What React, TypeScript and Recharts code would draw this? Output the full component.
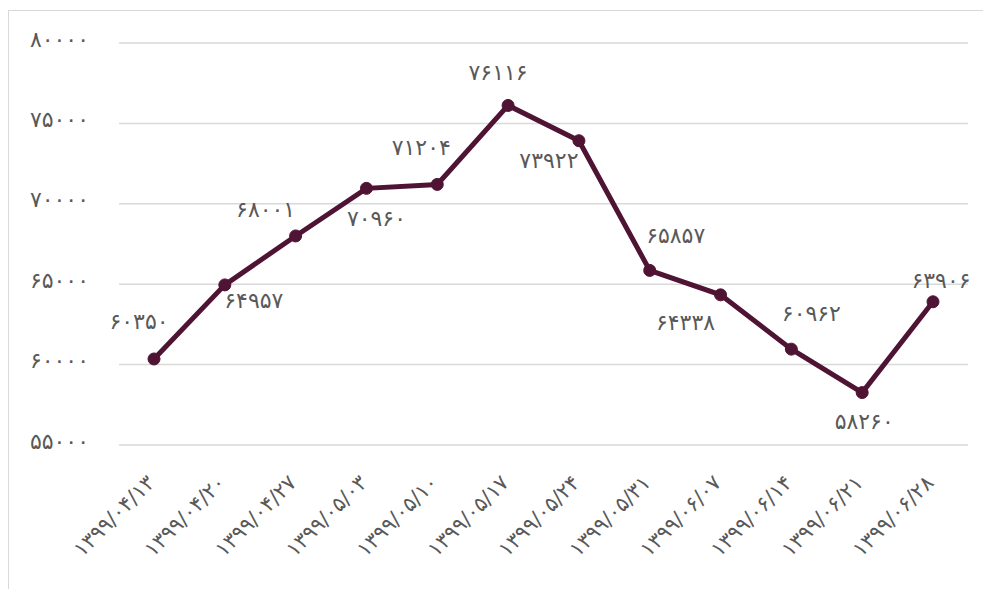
import { CartesianGrid, LabelList, Line, LineChart, XAxis, YAxis } from "recharts"

const dates = [
  "۱۳۹۹/۰۴/۱۳",
  "۱۳۹۹/۰۴/۲۰",
  "۱۳۹۹/۰۴/۲۷",
  "۱۳۹۹/۰۵/۰۳",
  "۱۳۹۹/۰۵/۱۰",
  "۱۳۹۹/۰۵/۱۷",
  "۱۳۹۹/۰۵/۲۴",
  "۱۳۹۹/۰۵/۳۱",
  "۱۳۹۹/۰۶/۰۷",
  "۱۳۹۹/۰۶/۱۴",
  "۱۳۹۹/۰۶/۲۱",
  "۱۳۹۹/۰۶/۲۸",
]
const prices = [60350, 64957, 68001, 70960, 71204, 76116, 73922, 65857, 64338, 60962, 58260, 63906]
const yTicks = [55000, 60000, 65000, 70000, 75000, 80000]

// where each value label sits relative to its point (Excel-ish auto placement)
const labelOffsets = [
  [-15, -37],
  [29, 16],
  [-30, -26],
  [10, 30],
  [-16, -37],
  [-10, -33],
  [-30, 20],
  [26, -35],
  [-35, 28],
  [20, -36],
  [2, 29],
  [8, -21],
]

const toPersian = (v: number | string) => String(v).replace(/[0-9]/g, (d) => "۰۱۲۳۴۵۶۷۸۹"[Number(d)])

const chartData = dates.map((date, i) => ({ date, price: prices[i] }))

const FONT = "DejaVu Sans"
const GRAY = "#595959"
const LINE = "#4F1434"

const DateTick = (props: any) => {
  const { x, payload } = props
  const ax = x + 2
  const ay = 484
  return (
    <text
      x={ax}
      y={ay}
      transform={`rotate(-45, ${ax}, ${ay})`}
      textAnchor="end"
      fill={GRAY}
      fontSize={21}
      fontFamily={FONT}
    >
      {payload.value}
    </text>
  )
}

const YTick = (props: any) => {
  const { x, y, payload } = props
  return (
    <text x={x} y={y - 4} textAnchor="end" dominantBaseline="central" fill={GRAY} fontSize={22} fontFamily={FONT}>
      {toPersian(payload.value)}
    </text>
  )
}

const ValueLabel = (props: any) => {
  const { x, y, value, index } = props
  const [dx, dy] = labelOffsets[index] || [0, -20]
  return (
    <text
      x={x + dx}
      y={y + dy}
      textAnchor="middle"
      dominantBaseline="central"
      fill={GRAY}
      fontSize={22}
      fontFamily={FONT}
    >
      {toPersian(value)}
    </text>
  )
}

export default function App() {
  return (
    <div style={{ position: "absolute", left: 0, top: 0, width: 983, height: 589, background: "#fff" }}>
      <div
        style={{
          position: "absolute",
          left: 8,
          top: 10,
          width: 983,
          height: 589,
          borderLeft: "1.5px solid #d9d9d9",
          borderTop: "1.5px solid #d9d9d9",
        }}
      />
      <LineChart
        width={983}
        height={589}
        data={chartData}
        margin={{ top: 43, right: 15, left: 8, bottom: 0 }}
        style={{ position: "absolute", left: 0, top: 0 }}
      >
        <CartesianGrid vertical={false} stroke="#d9d9d9" strokeWidth={1.5} />
        <XAxis
          dataKey="date"
          axisLine={false}
          tickLine={false}
          interval={0}
          height={144}
          padding={{ left: 35, right: 35 }}
          tick={<DateTick />}
        />
        <YAxis
          domain={[55000, 80000]}
          ticks={yTicks}
          interval={0}
          width={111}
          axisLine={false}
          tickLine={false}
          tickMargin={24}
          tick={<YTick />}
        />
        <Line
          type="linear"
          dataKey="price"
          stroke={LINE}
          strokeWidth={5}
          dot={{ r: 6, fill: LINE, stroke: LINE, strokeWidth: 1 }}
          isAnimationActive={false}
        >
          <LabelList dataKey="price" content={<ValueLabel />} />
        </Line>
      </LineChart>
    </div>
  )
}
